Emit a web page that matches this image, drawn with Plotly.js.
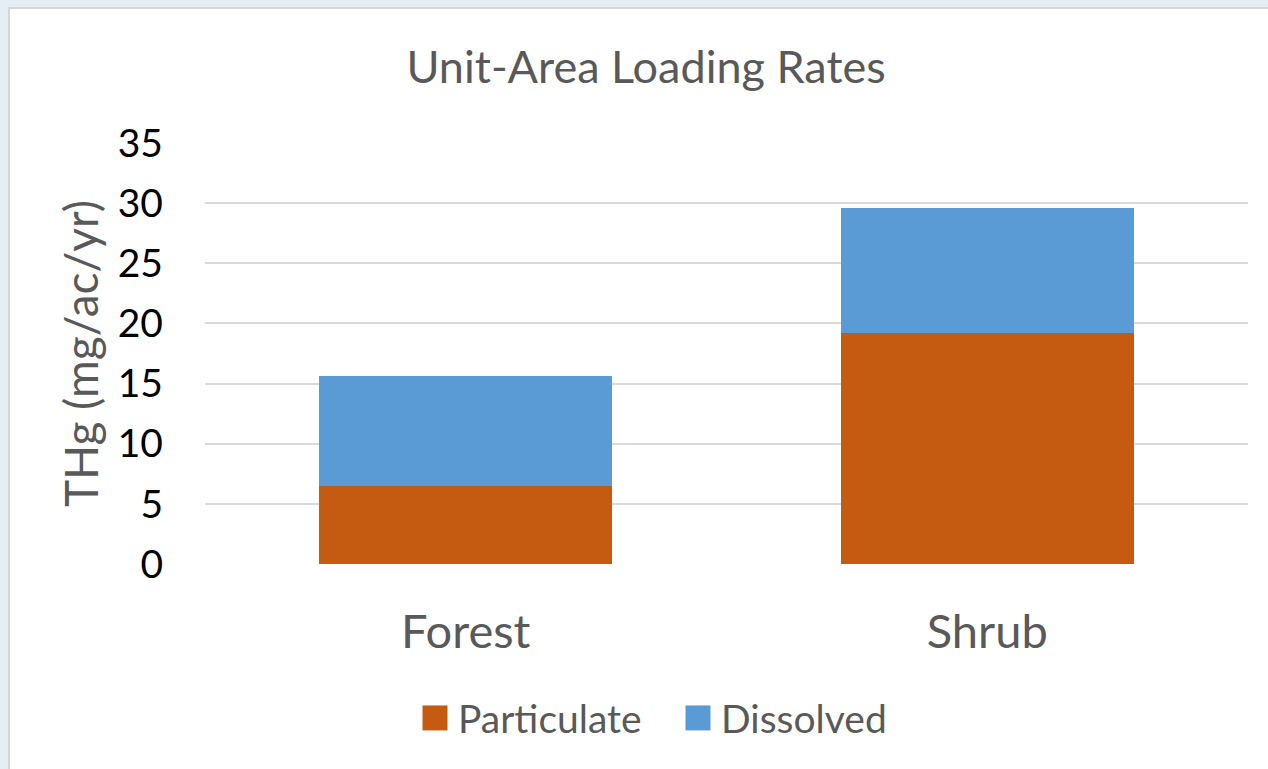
<!DOCTYPE html>
<html>
<head>
<meta charset="utf-8">
<script src="https://cdn.plot.ly/plotly-3.0.1.min.js"></script>
<style>
  html, body { margin: 0; padding: 0; width: 1268px; height: 769px; overflow: hidden; background: #e6eef5; }
  #frame { position: absolute; left: 8px; top: 7px; width: 1280px; height: 780px; background: #fff; border: 2px solid #d6d6d6; }
  #chart { position: absolute; left: 0; top: 0; width: 1268px; height: 769px; }
</style>
</head>
<body>
<div id="frame"></div>
<div id="chart"></div>
<script>
// unit-area loading rates
const categories = ["Forest", "Shrub"];
const particulate = [6.52, 19.2];
const dissolved = [9.1, 10.4];
const yTicks = [0, 5, 10, 15, 20, 25, 30, 35];

const FONT = "Lato, 'Open Sans', sans-serif";
const GREY = "#595959";

const traces = [
    {
        x: categories,
        y: particulate,
        name: "Particulate",
        type: "bar",
        marker: { color: "#C55A11" },
        hoverinfo: "x+y+name"
    },
    {
        x: categories,
        y: dissolved,
        name: "Dissolved",
        type: "bar",
        marker: { color: "#5B9BD5" },
        hoverinfo: "x+y+name"
    }
];

const layout = {
    width: 1268,
    height: 769,
    barmode: "stack",
    bargap: 0.438,
    paper_bgcolor: "rgba(0,0,0,0)",
    plot_bgcolor: "rgba(0,0,0,0)",
    margin: { l: 205, r: 20, t: 143, b: 205 },
    font: { family: FONT, color: GREY },
    title: {
        text: "Unit-Area Loading Rates",
        font: { family: FONT, size: 45, color: GREY },
        x: 0.5095,
        xanchor: "center",
        y: 0.912,
        yanchor: "middle"
    },
    xaxis: {
        type: "category",
        tickfont: { family: FONT, size: 47, color: GREY },
        ticklabelstandoff: 36,
        showline: false,
        showgrid: false,
        ticks: "",
        ticklen: 0
    },
    yaxis: {
        range: [0, 35],
        tickvals: yTicks,
        ticktext: yTicks.map(String),
        tickfont: { family: FONT, size: 39, color: "#000" },
        ticklabelstandoff: 41,
        showgrid: true,
        gridcolor: "#d9d9d9",
        gridwidth: 2,
        zeroline: false,
        showline: false,
        ticks: "",
        title: {
            text: "THg (mg/ac/yr)",
            font: { family: FONT, size: 46, color: GREY },
            standoff: 4
        }
    },
    showlegend: true,
    legend: {
        orientation: "h",
        x: (418 - 205) / 1043,
        xanchor: "left",
        y: -0.29,
        yanchor: "top",
        font: { family: FONT, size: 39, color: GREY },
        traceorder: "normal",
        itemwidth: 30,
        entrywidth: 218
    }
};

// office-style legend keys are bigger squares than plotly's default 12px,
// and sit a little further from their text
function enlargeLegendKeys(gd) {
    gd.querySelectorAll(".legendpoints path").forEach(p => {
        p.setAttribute("d", "M9.5,12.5H-15.5V-12.5H9.5Z");
    });
}

const gd = document.getElementById("chart");
Plotly.newPlot(gd, traces, layout, { displayModeBar: false, staticPlot: true })
    .then(() => enlargeLegendKeys(gd));
</script>
</body>
</html>
